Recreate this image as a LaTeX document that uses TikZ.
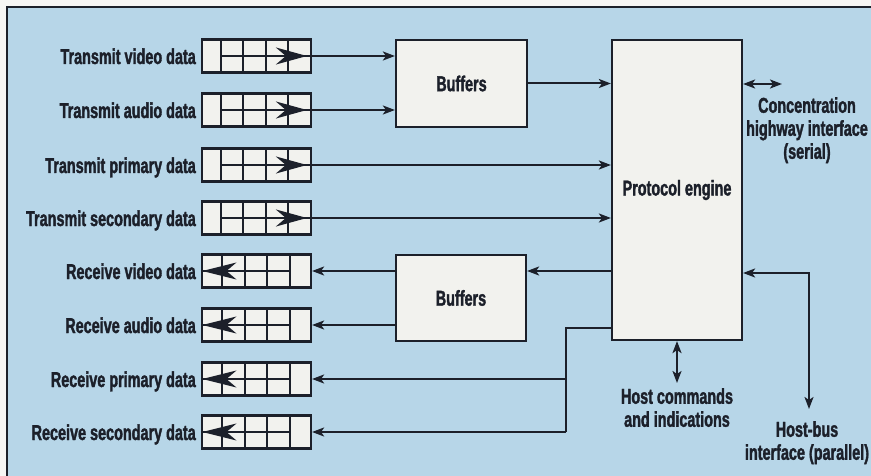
\documentclass[tikz,border=0pt]{standalone}
\usepackage{fontspec}
\setmainfont{Liberation Sans Bold}[FakeStretch=0.67, FakeBold=1.6]
\usetikzlibrary{arrows.meta,calc}
\definecolor{ink}{RGB}{28,32,42}
\definecolor{bgblue}{RGB}{183,214,232}
\definecolor{boxfill}{RGB}{242,242,238}
\definecolor{paper}{RGB}{246,246,244}
\tikzset{
  txt/.style={font=\fontsize{21.5}{23}\selectfont, text=ink, inner sep=0pt},
  lbl/.style={txt, anchor=base east},
  qbox/.style={draw=ink, fill=boxfill, line width=2.2pt, minimum width=109pt, minimum height=33pt, inner sep=0pt},
  blk/.style={draw=ink, fill=boxfill, line width=2.2pt, inner sep=0pt, txt},
  cell/.style={draw=ink, line width=2pt},
  bigtip/.style={draw=ink, line width=2pt, -{Stealth[length=31pt,width=17pt,inset=10pt]}},
  bigtipl/.style={draw=ink, line width=2pt, -{Stealth[length=34pt,width=17pt,inset=10pt]}},
  wire/.style={draw=ink, line width=2pt},
  conn/.style={wire, -{Stealth[length=12pt,width=9pt,inset=3pt]}},
  dconn/.style={wire, {Stealth[length=12pt,width=9pt,inset=3pt]}-{Stealth[length=12pt,width=9pt,inset=3pt]}}
}
\begin{document}
\begin{tikzpicture}[x=1pt,y=-1pt]
\useasboundingbox (0,0) rectangle (871,476);
\fill[paper] (0,0) rectangle (871,476);
\fill[bgblue] (7,7) rectangle (871,476);
\draw[ink, line width=2.5pt] (7,476) -- (7,7) -- (871,7);

% transmit queues
\foreach \n/\y/\t in {tv/56/Transmit video data, ta/110/Transmit audio data, tp/165/Transmit primary data, ts/218/Transmit secondary data} {
  \node[qbox] (\n) at (256.5,\y) {};
  \foreach \dx in {20,42.5,65,87.5}
    \draw[cell] ($(\n.north west)+(\dx,0)$) -- ($(\n.south west)+(\dx,0)$);
  \draw[cell] ($(\n.west)+(20,0)$) -- (\n.east);
  \draw[bigtip] ($(\n.west)+(70,0)$) -- ($(\n.west)+(106,0)$);
  \node[lbl] (l\n) at (196,\y+8) {\t};
}
% receive queues
\foreach \n/\y/\t in {rv/271/Receive video data, ra/325/Receive audio data, rp/379/Receive primary data, rs/432/Receive secondary data} {
  \node[qbox] (\n) at (256.5,\y) {};
  \foreach \dx in {21.5,44,66.5,89}
    \draw[cell] ($(\n.north west)+(\dx,0)$) -- ($(\n.south west)+(\dx,0)$);
  \draw[cell] (\n.west) -- ($(\n.west)+(89,0)$);
  \draw[bigtipl] ($(\n.west)+(40,0)$) -- ($(\n.west)+(1.5,0)$);
  \node[lbl] (l\n) at (196,\y+8) {\t};
}

% blocks
\node[blk, minimum width=131pt, minimum height=87pt] (buf1) at (461.5,83.5) {Buffers};
\node[blk, minimum width=130pt, minimum height=86pt] (buf2) at (461,298) {Buffers};
\node[blk, minimum width=130pt, minimum height=300pt] (pe) at (677,190) {Protocol engine};

% transmit connectors
\draw[conn] (tv.east) -- (tv.east -| buf1.west);
\draw[conn] (ta.east) -- (ta.east -| buf1.west);
\draw[conn] (buf1.east) -- (buf1.east -| pe.west);
\draw[conn] (tp.east) -- (tp.east -| pe.west);
\draw[conn] (ts.east) -- (ts.east -| pe.west);

% receive connectors
\draw[conn] (pe.west |- rv.east) -- (buf2.east |- rv.east);
\draw[conn] (buf2.west |- rv.east) -- (rv.east);
\draw[conn] (buf2.west |- ra.east) -- (ra.east);
\coordinate (bt) at (566,328);
\draw[wire] (pe.west |- bt) -- (bt) -- (bt |- rs.east);
\draw[conn] (bt |- rp.east) -- (rp.east);
\draw[conn] (bt |- rs.east) -- (rs.east);

% right side interfaces
\coordinate (chi) at (782,84);
\draw[dconn] (pe.east |- chi) -- (chi);
\node[txt, align=center, anchor=north] (chit) at (807,97) {Concentration\\highway interface\\(serial)};

\coordinate (hc) at (677,383);
\draw[dconn] (pe.south) -- (hc);
\node[txt, align=center, anchor=north] (hct) at (677,388) {Host commands\\and indications};

\coordinate (hbc) at (809,273);
\coordinate (hb) at (809,409);
\draw[dconn] (pe.east |- hbc) -- (hbc) -- (hb);
\node[txt, align=center, anchor=north] (hbt) at (807,421) {Host-bus\\interface (parallel)};
\end{tikzpicture}
\end{document}
